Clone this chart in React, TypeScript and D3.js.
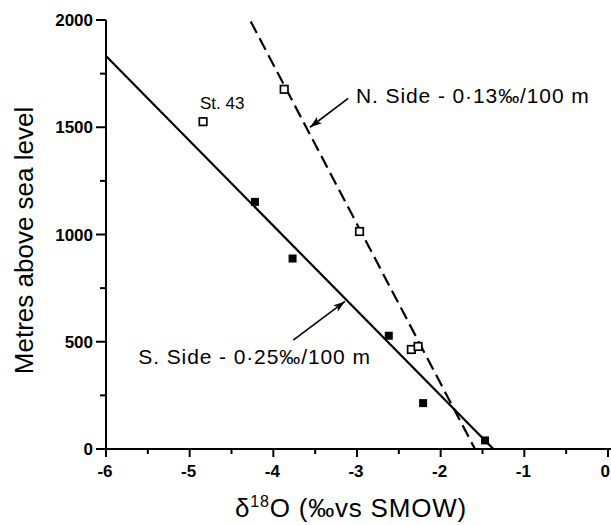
import React from "react";
import * as d3 from "d3";

// Data
const southX = [-4.22, -3.77, -2.62, -2.21, -1.47];
const southY = [1152, 888, 528, 214, 40];
const northX = [-4.84, -3.87, -2.97, -2.35, -2.27];
const northY = [1526, 1677, 1014, 464, 478];
const southLineX = [-6, -1.37];
const southLineY = [1832, 0];
const northLineX = [-4.27, -1.59];
const northLineY = [1993, 0];
const xTicks = [-6, -5, -4, -3, -2, -1, 0];
const xTickLabels = ["-6", "-5", "-4", "-3", "-2", "-1", "0"];
const xMinor = [-5.5, -4.5, -3.5, -2.5, -1.5, -0.5];
const yTicks = [0, 500, 1000, 1500, 2000];
const yTickLabels = ["0", "500", "1000", "1500", "2000"];
const yMinor = [250, 750, 1250, 1750];

const W = 611;
const H = 525;
const FONT = "'Liberation Sans', Arial, Helvetica, sans-serif";

export default function App() {
  const x = d3.scaleLinear().domain([-6, 0]).range([106, 608]);
  const y = d3.scaleLinear().domain([0, 2000]).range([449, 20]);
  const line = d3
    .line<[number, number]>()
    .x((d) => x(d[0]))
    .y((d) => y(d[1]));
  const sPts: [number, number][] = southLineX.map((v, i) => [v, southLineY[i]]);
  const nPts: [number, number][] = northLineX.map((v, i) => [v, northLineY[i]]);
  const sq = 8;
  const osq = 7.5;

  return (
    <svg
      width={W}
      height={H}
      style={{ position: "absolute", left: 0, top: 0, background: "#fff" }}
      fontFamily={FONT}
    >
      <defs>
        <marker
          id="ah"
          viewBox="0 0 12 8"
          refX="12"
          refY="4"
          markerWidth="12"
          markerHeight="8"
          markerUnits="userSpaceOnUse"
          orient="auto"
        >
          <path d="M0,0 L12,4 L0,8 L3,4 Z" fill="#000" />
        </marker>
      </defs>

      {/* axes */}
      <line x1={x(-6)} x2={W} y1={y(0)} y2={y(0)} stroke="#000" strokeWidth={2} />
      <line x1={x(-6)} x2={x(-6)} y1={y(0)} y2={y(2000)} stroke="#000" strokeWidth={2} />
      {xTicks.map((t, i) => (
        <g key={"xt" + i}>
          <line x1={x(t)} x2={x(t)} y1={y(0)} y2={y(0) + 8} stroke="#000" strokeWidth={2} />
          <text
            x={t === 0 ? W - 1 : x(t) - 1}
            y={y(0) + 28}
            textAnchor={t === 0 ? "end" : "middle"}
            fontSize={17}
            fontWeight="bold"
          >
            {xTickLabels[i]}
          </text>
        </g>
      ))}
      {xMinor.map((t, i) => (
        <line key={"xm" + i} x1={x(t)} x2={x(t)} y1={y(0)} y2={y(0) + 5} stroke="#000" strokeWidth={2} />
      ))}
      {yTicks.map((t, i) => (
        <g key={"yt" + i}>
          <line x1={x(-6) - 10} x2={x(-6)} y1={y(t)} y2={y(t)} stroke="#000" strokeWidth={2} />
          <text
            x={x(-6) - 13}
            y={y(t) + 6}
            textAnchor="end"
            fontSize={17}
            fontWeight="bold"
          >
            {yTickLabels[i]}
          </text>
        </g>
      ))}
      {yMinor.map((t, i) => (
        <line key={"ym" + i} x1={x(-6) - 6} x2={x(-6)} y1={y(t)} y2={y(t)} stroke="#000" strokeWidth={2} />
      ))}

      {/* axis titles */}
      <text
        transform={`translate(33, ${(y(0) + y(2000)) / 2 + 6}) rotate(-90)`}
        textAnchor="middle"
        fontSize={26}
      >
        Metres above sea level
      </text>
      <text x={235} y={517} fontSize={26} letterSpacing={0.8}>
        δ
        <tspan fontSize={16} dy={-10}>
          18
        </tspan>
        <tspan dy={10}>O (‰vs SMOW)</tspan>
      </text>

      {/* regression lines */}
      <path d={line(sPts) || ""} fill="none" stroke="#000" strokeWidth={2.2} />
      <path
        d={line(nPts) || ""}
        fill="none"
        stroke="#000"
        strokeWidth={2.2}
        strokeDasharray="13,6"
      />

      {/* points */}
      {southX.map((v, i) => (
        <rect
          key={"s" + i}
          x={x(v) - sq / 2}
          y={y(southY[i]) - sq / 2}
          width={sq}
          height={sq}
          fill="#000"
        />
      ))}
      {northX.map((v, i) => (
        <rect
          key={"n" + i}
          x={x(v) - osq / 2}
          y={y(northY[i]) - osq / 2}
          width={osq}
          height={osq}
          fill="#fff"
          stroke="#000"
          strokeWidth={1.7}
        />
      ))}

      {/* annotations */}
      <text x={x(-4.877)} y={y(1583)} fontSize={17}>
        St. 43
      </text>
      <line
        x1={x(-3.105)}
        y1={y(1635)}
        x2={x(-3.562)}
        y2={y(1500)}
        stroke="#000"
        strokeWidth={1.6}
        markerEnd="url(#ah)"
      />
      <text x={x(-3.012)} y={y(1613)} fontSize={21} letterSpacing={0.9}>
        N. Side - 0·13‰/100 m
      </text>
      <line
        x1={x(-3.762)}
        y1={y(508)}
        x2={x(-3.144)}
        y2={y(688)}
        stroke="#000"
        strokeWidth={1.6}
        markerEnd="url(#ah)"
      />
      <text x={x(-5.614)} y={y(396)} fontSize={21} letterSpacing={0.9}>
        S. Side - 0·25‰/100 m
      </text>
    </svg>
  );
}
